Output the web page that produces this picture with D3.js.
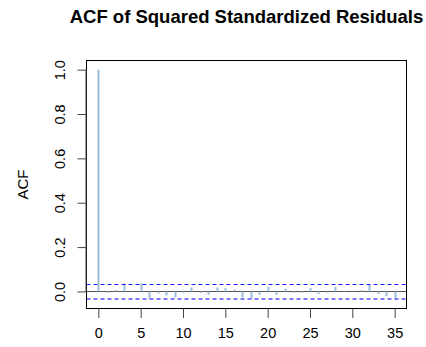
<!DOCTYPE html>
<html>
<head>
<meta charset="utf-8">
<script src="https://cdn.jsdelivr.net/npm/d3@7"></script>
<style>
  html, body { margin: 0; padding: 0; background: #fff; }
  svg { display: block; font-family: "Liberation Sans", Arial, sans-serif; }
</style>
</head>
<body>
<svg id="chart" width="426" height="347"></svg>
<script>
// Autocorrelation of squared standardized residuals, lags 0..35
const lags = d3.range(0, 36);
const acfValues = [
  1.000, -0.006, 0.007, 0.036, 0.002, 0.036, -0.033, -0.009, -0.018, -0.027,
  -0.006, 0.018, -0.007, -0.015, 0.018, 0.015, 0.009, -0.027, -0.033, -0.015,
  0.021, -0.015, 0.012, -0.006, -0.006, 0.015, -0.012, -0.006, 0.021, 0.002,
  0.001, 0.007, 0.031, -0.012, -0.021, -0.030
];
const ciBound = 0.0355;
const xTicks = [0, 5, 10, 15, 20, 25, 30, 35];
const yTicks = [0.0, 0.2, 0.4, 0.6, 0.8, 1.0];

const svg = d3.select("#chart");
const box = { left: 86.5, right: 406.5, top: 60.5, bottom: 308.5 };
const labelSize = 14.5;

// R-style 4% padding on both axes
const xDom = [0, 35];
const xPad = (xDom[1] - xDom[0]) * 0.04;
const x = d3.scaleLinear().domain([xDom[0] - xPad, xDom[1] + xPad]).range([box.left, box.right]);

const yMin = Math.min(d3.min(acfValues), -ciBound), yMax = 1.0;
const yPad = (yMax - yMin) * 0.04;
const y = d3.scaleLinear().domain([yMin - yPad, yMax + yPad]).range([box.bottom, box.top]);

// zero reference line
svg.append("line")
  .attr("x1", box.left).attr("x2", box.right)
  .attr("y1", Math.round(y(0)) + 0.5).attr("y2", Math.round(y(0)) + 0.5)
  .attr("stroke", "#555").attr("stroke-width", 1);

// ACF spikes
svg.append("g").selectAll("line")
  .data(lags)
  .join("line")
  .attr("x1", d => Math.round(x(d)) + 0.5)
  .attr("x2", d => Math.round(x(d)) + 0.5)
  .attr("y1", Math.round(y(0)) + 0.5)
  .attr("y2", (d, i) => y(acfValues[i]))
  .attr("stroke", "#9dbcd8").attr("stroke-width", 2);

// confidence bounds
svg.append("line")
  .attr("x1", box.left).attr("x2", box.right)
  .attr("y1", Math.round(y(ciBound)) + 0.5).attr("y2", Math.round(y(ciBound)) + 0.5)
  .attr("stroke", "#1a1aff").attr("stroke-width", 1)
  .attr("stroke-dasharray", "4,3");
svg.append("line")
  .attr("x1", box.left).attr("x2", box.right)
  .attr("y1", Math.round(y(-ciBound))).attr("y2", Math.round(y(-ciBound)))
  .attr("stroke", "#7c7cff").attr("stroke-width", 2)
  .attr("stroke-dasharray", "4,3");

// plot frame
svg.append("rect")
  .attr("x", box.left).attr("y", box.top)
  .attr("width", box.right - box.left).attr("height", box.bottom - box.top)
  .attr("fill", "none").attr("stroke", "#000").attr("stroke-width", 1);

// x axis
const xAxis = d3.axisBottom(x).tickValues(xTicks).tickSize(9.5).tickPadding(10).tickFormat(d3.format("d"));
const gx = svg.append("g").attr("transform", `translate(0,${box.bottom})`).call(xAxis);
gx.select(".domain").remove();
gx.selectAll(".tick line").attr("stroke", "#444");
gx.selectAll("text").attr("font-size", labelSize).attr("fill", "#000")
  .attr("font-family", "Liberation Sans, Arial, sans-serif");

// y axis with rotated labels
const yAxis = d3.axisLeft(y).tickValues(yTicks).tickSize(9).tickFormat(d3.format(".1f"));
const gy = svg.append("g").attr("transform", `translate(${box.left},0)`).call(yAxis);
gy.select(".domain").attr("d", `M-0.5,${y(0)}V${y(1)}`).attr("stroke", "#444");
gy.selectAll(".tick line").attr("stroke", "#444");
gy.selectAll("text")
  .attr("font-size", labelSize).attr("fill", "#000")
  .attr("font-family", "Liberation Sans, Arial, sans-serif")
  .attr("x", null)
  .attr("text-anchor", "middle")
  .attr("transform", "translate(-27,0) rotate(-90)")
  .attr("dy", "0.35em");

// axis title
svg.append("text")
  .attr("transform", `translate(28,${(box.top + box.bottom) / 2}) rotate(-90)`)
  .attr("text-anchor", "middle")
  .attr("font-size", 15)
  .text("ACF");

// chart title
svg.append("text")
  .attr("x", (box.left + box.right) / 2).attr("y", 23)
  .attr("text-anchor", "middle")
  .attr("font-size", 18.5)
  .attr("font-weight", "bold")
  .text("ACF of Squared Standardized Residuals");
</script>
</body>
</html>
